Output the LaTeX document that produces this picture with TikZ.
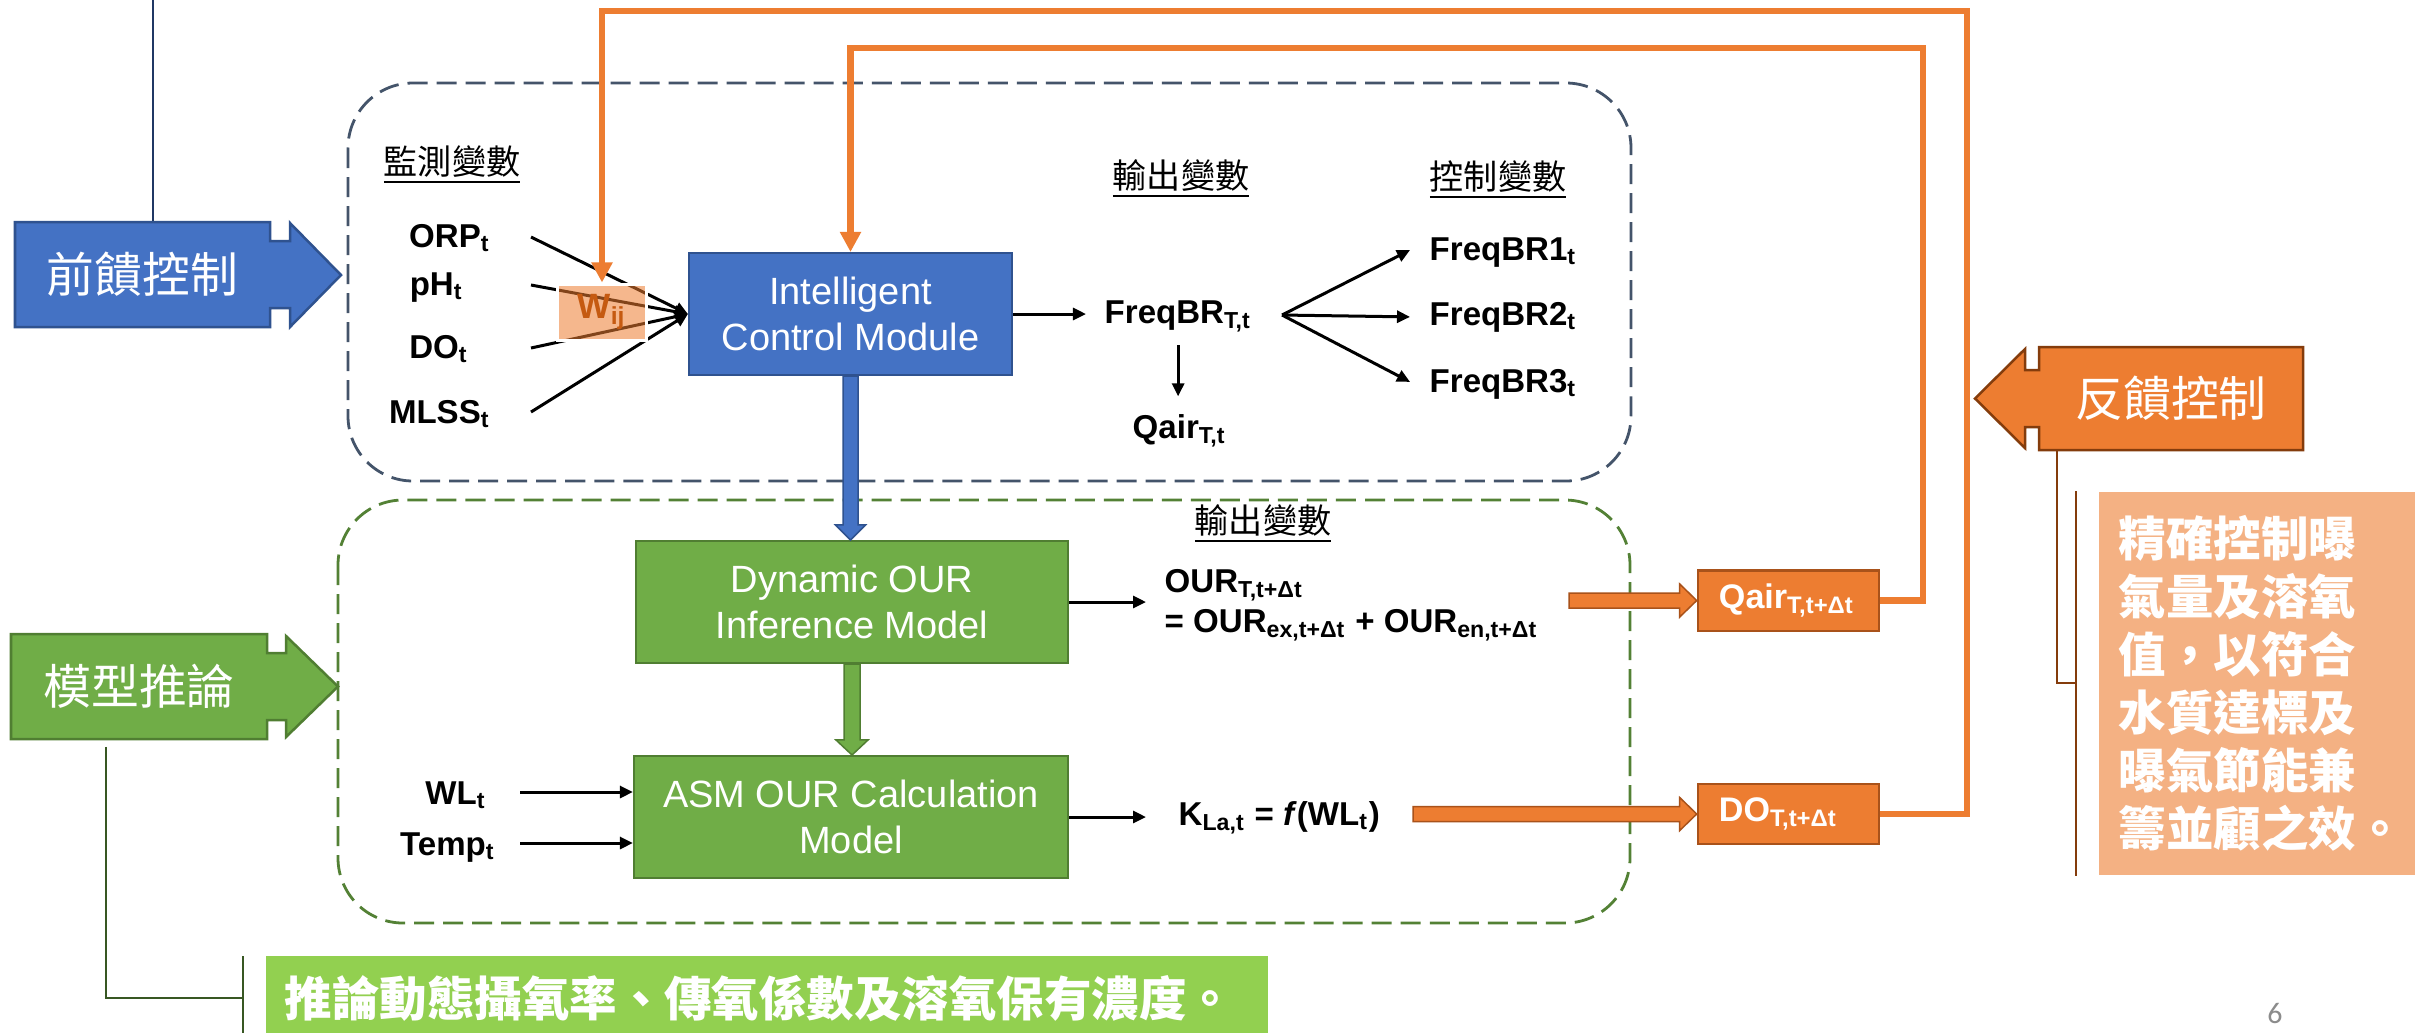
\documentclass[tikz,border=0pt]{standalone}
\usepackage{fontspec}
\setmainfont{Liberation Sans}
\newfontfamily\cjk{Noto Sans CJK TC}
\newfontfamily\pgfont{Carlito}
\usetikzlibrary{arrows.meta,calc}
\definecolor{cblue}{HTML}{4472C4}
\definecolor{cbluedk}{HTML}{2F528F}
\definecolor{cgreen}{HTML}{70AD47}
\definecolor{cgreendk}{HTML}{507E32}
\definecolor{corange}{HTML}{ED7D31}
\definecolor{corangedk}{HTML}{A9521A}
\definecolor{csalmon}{HTML}{F4B183}
\definecolor{clime}{HTML}{92D050}
\definecolor{cslate}{HTML}{44546A}
\definecolor{cdashgreen}{HTML}{538135}
\definecolor{cnavy}{HTML}{203864}
\definecolor{clinegreen}{HTML}{385723}
\definecolor{cbrown}{HTML}{843C0C}
\definecolor{cwtext}{HTML}{C55A11}
\definecolor{cpage}{HTML}{8C8C8C}
\begin{document}
\begin{tikzpicture}[x=0.01cm,y=-0.01cm,
 lbl/.style={font=\fontsize{9.4}{11.3}\selectfont\bfseries, inner sep=0pt},
 hdr/.style={font=\cjk\fontsize{9.7}{11.6}\selectfont, inner sep=0pt},
 box/.style={draw, line width=0.02cm, align=center, text=white, font=\fontsize{10.8}{13.2}\selectfont, inner sep=0pt, minimum height=1.22cm},
 bluebox/.style={box, fill=cblue, draw=cbluedk},
 greenbox/.style={box, fill=cgreen, draw=cgreendk},
 orgbox/.style={draw=corangedk, fill=corange, line width=0.025cm, text=white, font=\fontsize{9.7}{11.6}\selectfont\bfseries, align=left, text width=1.39cm, inner xsep=0.21cm, inner ysep=0pt, minimum height=0.605cm},
 arr/.style={black, line width=0.03cm, -{Triangle[length=0.13cm,width=0.12cm]}},
 fbl/.style={draw=corange, line width=0.065cm, -{Triangle[length=0.2cm,width=0.2cm]}},
 dbox/.style={line width=0.028cm, dash pattern=on 0.2cm off 0.09cm, rounded corners=0.65cm},
 calltext/.style={text=white, font=\cjk\fontsize{13.6}{16}\selectfont, inner sep=0pt},
 blueblk/.style={fill=cblue, draw=cbluedk, line width=0.015cm},
 greenblk/.style={fill=cgreen, draw=cgreendk, line width=0.015cm},
 orgblk/.style={fill=corange, draw=corangedk, line width=0.015cm},
 conn/.style={line width=0.022cm}
]
\fill[white] (0,0) rectangle (2415,1032);
\useasboundingbox (0,0) rectangle (2415,1032);

% dashed group frames
\draw[dbox, cslate] (348,83) rectangle (1631,481);
\draw[dbox, cdashgreen] (338,500) rectangle (1630,923);

% notes
\node[fill=csalmon, anchor=north west, minimum height=3.83cm, text width=2.9cm, inner xsep=0.2cm, inner ysep=0pt, align=left, text=white, font=\cjk\bfseries\fontsize{13.5}{16.5}\selectfont] (fbnote) at (2098,491) {精確控制曝\\氣量及溶氧\\值，以符合\\水質達標及\\曝氣節能兼\\籌並顧之效。};
\node[fill=clime, anchor=north west, minimum height=0.85cm, text width=9.64cm, inner xsep=0.19cm, inner ysep=0pt, align=left, text=white, font=\cjk\bfseries\fontsize{13.5}{16}\selectfont] (gnote) at (265,955) {推論動態攝氧率、傳氧係數及溶氧保有濃度。};

% callout arrows
\draw[fill=cblue, draw=cbluedk, line width=0.025cm] (15,222) -- (270,222) -- (270,241) -- (290,241) -- (290,223) -- (341,275) -- (290,327) -- (290,308) -- (270,308) -- (270,327) -- (15,327) -- cycle;
\node[calltext, minimum width=2.55cm, minimum height=1.05cm] (ff) at (142.5,274.5) {前饋控制};
\draw[fill=cgreen, draw=cgreendk, line width=0.025cm] (11,634) -- (267,634) -- (267,653) -- (286,653) -- (286,636) -- (338,686.5) -- (286,737) -- (286,720) -- (267,720) -- (267,739) -- (11,739) -- cycle;
\node[calltext, minimum width=2.56cm, minimum height=1.05cm] (mt) at (139,686.5) {模型推論};
\draw[fill=corange, draw=cbrown, line width=0.025cm] (2303,347) -- (2039,347) -- (2039,370) -- (2025,370) -- (2025,349) -- (1975,398.5) -- (2025,448) -- (2025,427) -- (2039,427) -- (2039,450) -- (2303,450) -- cycle;
\node[calltext, minimum width=2.64cm, minimum height=1.03cm] (fb) at (2171,398.5) {反饋控制};

% side connectors
\coordinate (navytop) at (153,0);
\draw[conn, cnavy] (navytop) -- (navytop |- ff.north);
\draw[conn, clinegreen] ($(mt.south)+(-33,7)$) |- ($(gnote.west)+(-22,0)$);
\draw[conn, clinegreen] ($(gnote.north west)+(-22,1)$) -- ($(gnote.south west)+(-22,0)$);
\draw[conn, cbrown] ($(fb.south)+(-114,0)$) |- ($(fbnote.west)+(-22,0)$);
\draw[conn, cbrown] ($(fbnote.north west)+(-22,0)$) -- ($(fbnote.south west)+(-22,0)$);

% main boxes
\node[bluebox, minimum width=3.23cm] (icm) at (850.5,314) {Intelligent\\Control Module};
\node[greenbox, minimum width=4.32cm] (dyn) at (852,602) {Dynamic OUR\\Inference Model};
\node[greenbox, minimum width=4.34cm] (asm) at (851,817) {ASM OUR Calculation\\Model};
\node[orgbox] (qair) at (1788.5,600.5) {Qair\textsubscript{T,t+Δt}};
\node[orgbox, minimum height=0.6cm] (dobox) at (1788.5,814) {DO\textsubscript{T,t+Δt}};

% headers
\node[hdr, anchor=base] (hmon) at (452,174) {\underline{監測變數}};
\node[hdr, anchor=base] (hout) at (1181,188) {\underline{輸出變數}};
\node[hdr, anchor=base] (hctl) at (1498,189) {\underline{控制變數}};
\node[hdr, anchor=base] (hout2) at (1263,533) {\underline{輸出變數}};

% monitored variables
\node[lbl, anchor=base east] (orp) at (491,247) {ORP\textsubscript{t}};
\node[lbl, anchor=base east] (ph) at (464,295) {pH\textsubscript{t}};
\node[lbl, anchor=base east] (dolbl) at (469,358) {DO\textsubscript{t}};
\node[lbl, anchor=base east] (mlss) at (491,423) {MLSS\textsubscript{t}};
\coordinate (orpS) at (531,237);
\coordinate (phS) at (531,285);
\coordinate (doS) at (531,348);
\coordinate (mlssS) at (531,412);
\draw[arr] (orpS) -- (icm.west);
\draw[arr] (phS) -- (icm.west);
\draw[arr] (doS) -- (icm.west);
\draw[arr] (mlssS) -- (icm.west);
\node[fill=corange, fill opacity=0.55, text opacity=1, draw=white, draw opacity=1, line width=0.03cm, minimum width=0.88cm, minimum height=0.56cm, inner sep=0pt, text=cwtext, font=\fontsize{10}{12}\selectfont\bfseries] (wij) at (602,312) {\raisebox{-0.04cm}{W\textsubscript{ij}}};

% output / control variables
\node[lbl, anchor=base west] (freq) at (1104,323) {FreqBR\textsubscript{T,t}};
\node[lbl, anchor=base west] (qairtt) at (1132,438) {Qair\textsubscript{T,t}};
\node[lbl, anchor=base west] (fb1) at (1429,260) {FreqBR1\textsubscript{t}};
\node[lbl, anchor=base west] (fb2) at (1429,325) {FreqBR2\textsubscript{t}};
\node[lbl, anchor=base west] (fb3) at (1429,392) {FreqBR3\textsubscript{t}};
\draw[arr, shorten >=0.18cm] (icm.east) -- (icm.east -| freq.west);
\draw[arr, shorten <=0.13cm, shorten >=0.17cm] (freq.south) -- (freq.south |- qairtt.north);
\coordinate (fan) at (1282,315);
\draw[arr] (fan) -- ($(fb1.west)+(-19,-2)$);
\draw[arr] (fan) -- ($(fb2.west)+(-19,0)$);
\draw[arr] (fan) -- ($(fb3.west)+(-19,-2)$);

% model outputs
\node[lbl, anchor=north west, align=left, font=\fontsize{9.4}{11.4}\selectfont\bfseries] (our) at (1164,569) {OUR\textsubscript{T,t+Δt}\\= OUR\textsubscript{ex,t+Δt} + OUR\textsubscript{en,t+Δt}};
\node[lbl, anchor=base west] (kla) at (1178,825) {K\textsubscript{La,t} = \textit{f}(WL\textsubscript{t})};
\draw[arr] (dyn.east) -- ($(dyn.east -| our.west)+(-18,0)$);
\draw[arr] (asm.east) -- ($(asm.east -| kla.west)+(-32,0)$);

% model inputs
\node[lbl, anchor=base east] (wl) at (487,804) {WL\textsubscript{t}};
\node[lbl, anchor=base east] (temp) at (496,855) {Temp\textsubscript{t}};
\draw[arr] ($(wl.base east)+(33,-12)$) -- ($(wl.base east -| asm.west)+(0,-12)$);
\draw[arr] ($(temp.base east)+(24,-12)$) -- ($(temp.base east -| asm.west)+(0,-12)$);

% block arrows
\draw[blueblk] ($(icm.south)+(-7.5,0)$) -- ($(icm.south |- dyn.north)+(-7.5,-15)$) -- ($(icm.south |- dyn.north)+(-15,-15)$) -- (icm.south |- dyn.north) -- ($(icm.south |- dyn.north)+(15,-15)$) -- ($(icm.south |- dyn.north)+(7.5,-15)$) -- ($(icm.south)+(7.5,0)$) -- cycle;
\draw[greenblk] ($(dyn.south)+(-8,0)$) -- ($(dyn.south |- asm.north)+(-8,-15)$) -- ($(dyn.south |- asm.north)+(-16,-15)$) -- (dyn.south |- asm.north) -- ($(dyn.south |- asm.north)+(16,-15)$) -- ($(dyn.south |- asm.north)+(8,-15)$) -- ($(dyn.south)+(8,0)$) -- cycle;
\coordinate (qinx) at (1569,0);
\coordinate (doinx) at (1413,0);
\draw[orgblk] ($(qair.west -| qinx)+(0,-7.5)$) -- ($(qair.west)+(-17,-7.5)$) -- ($(qair.west)+(-17,-16.5)$) -- (qair.west) -- ($(qair.west)+(-17,16.5)$) -- ($(qair.west)+(-17,7.5)$) -- ($(qair.west -| qinx)+(0,7.5)$) -- cycle;
\draw[orgblk] ($(dobox.west -| doinx)+(0,-7.5)$) -- ($(dobox.west)+(-17,-7.5)$) -- ($(dobox.west)+(-17,-16.5)$) -- (dobox.west) -- ($(dobox.west)+(-17,16.5)$) -- ($(dobox.west)+(-17,7.5)$) -- ($(dobox.west -| doinx)+(0,7.5)$) -- cycle;

% feedback loops
\draw[fbl] (dobox.east) -| (1967,11) -| (wij.north);
\draw[fbl] (qair.east) -| (1923,48) -| (icm.north);

% page number
\node[text=cpage, font=\pgfont\fontsize{8.5}{10}\selectfont, inner sep=0pt] (pg) at (2275,1013) {6};
\end{tikzpicture}
\end{document}
